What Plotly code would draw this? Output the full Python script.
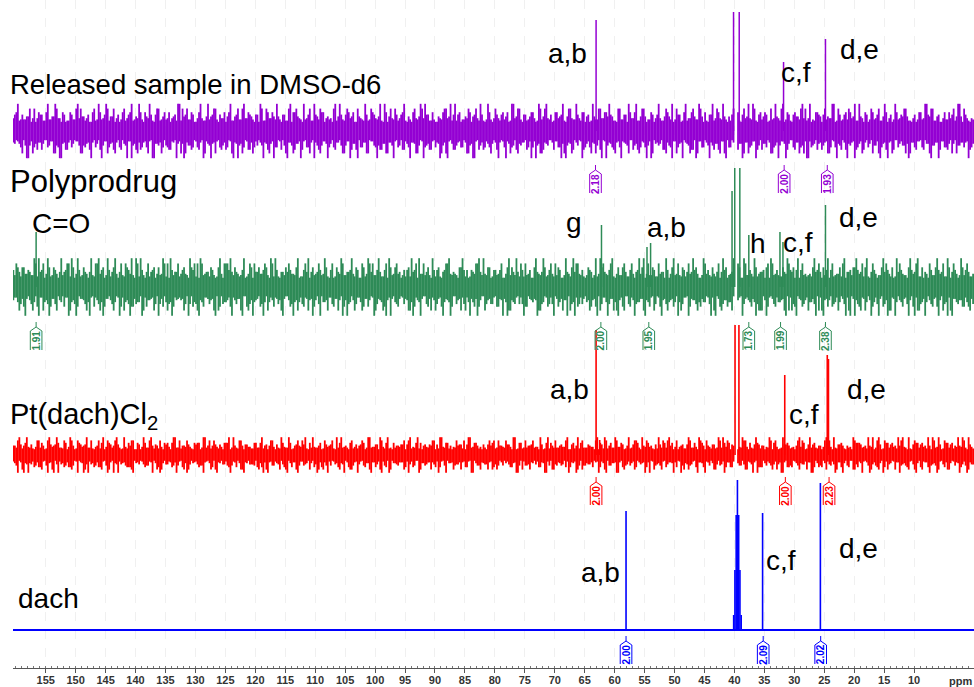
import plotly.graph_objects as go

# ---------------------------------------------------------------- layout basics
W, H = 974, 687
PLOT_H = 668                      # height of the plotting area in px (y data units = px)
X_LEFT, X_RIGHT = 160.46, 0.0     # ppm range, reversed like an NMR axis
FONT = "Liberation Sans, Arial, Helvetica, sans-serif"

C_REL = "#9400D3"    # released sample
C_POLY = "#2E8B57"   # polyprodrug
C_PT = "#FF0000"     # Pt(dach)Cl2
C_DACH = "#0000FF"   # dach

# ---------------------------------------------------------------- peak data (ppm, height)
rel_ppm = [63.1, 40.15, 39.2, 31.8, 24.8]
rel_height = [111, 119, 119, 69, 92]

poly_ppm = [156.6, 62.2, 54.6, 54.0, 40.4, 39.95, 39.1, 37.6, 32.4, 31.9, 24.8]
poly_height = [55, 62, 40, 44, 96, 119, 119, 52, 55, 45, 82]

pt_ppm = [63.1, 62.5, 39.9, 39.25, 31.6, 24.5, 24.3]
pt_height = [125, 15, 130, 130, 80, 100, 96]

dach_ppm = [58.1, 40.13, 39.92, 39.71, 39.50, 39.29, 39.08, 38.87, 35.3, 25.65]
dach_height = [119, 15, 60, 115, 150, 115, 60, 15, 117, 147]

# ---------------------------------------------------------------- integrals
rel_int_ppm = [63.2, 31.7, 24.5]
rel_int_val = ["2.18", "2.00", "1.93"]

poly_int_ppm = [156.6, 62.3, 54.3, 37.6, 32.3, 24.8]
poly_int_val = ["1.91", "2.00", "1.95", "1.73", "1.99", "2.38"]

pt_int_ppm = [63.1, 31.5, 24.2]
pt_int_val = ["2.00", "2.00", "2.23"]

dach_int_ppm = [58.1, 35.2, 25.6]
dach_int_val = ["2.00", "2.09", "2.02"]

# ---------------------------------------------------------------- baseline noise envelopes
# one digit per 0.5 ppm from 160.4 ppm downwards (upper / lower excursions, 0-9 scale)
rel_noise_hi = (
    "4726351846273594162738452618374925163847"
    "2593746182537469258361742958364172583946"
    "3618274593628175394826371548293675184263"
    "7452918364725183946271538496273581649237"
    "1846372958163742859317462583947162538479"
    "5283617492853716428593617248395716284935"
    "6371854926371845293617584293761854926378"
    "4925163748291637458216374958261734859162"
    "4"
)
rel_noise_lo = (
    "3148592673415286937142586391475263817492"
    "5736281943657214893562718493265718394627"
    "8215374962183574926813752946318527496381"
    "2657483915726348195726483917526384915726"
    "4391628574316925874132698547319628457193"
    "6829351748265913478592631487926153748296"
    "1574836295741863529417368925147386295174"
    "3962714858639271458936217485392671485339"
    "6"
)
poly_noise_hi = (
    "6857463925847361958274635192847365918274"
    "3926185743921658473962184573291865743928"
    "1574839261578439265174839261748359261748"
    "8392617485327961485392716845379216485937"
    "2648173592684175392648713529846175329846"
    "9173826459718362459173826549713862451973"
    "5481936274518936274851963247581396247815"
    "3765291843756219843765921483765291843765"
    "2"
)
poly_noise_lo = (
    "4283916572849361572849136527489316527849"
    "7659243816756923481676952348176529438176"
    "9416582734914658273494615827349461825734"
    "2835749163238574916328375491632853794163"
    "6174398526671439852661734985266147398256"
    "3592817465395281746535982174653529817645"
    "8741625398847162539887146253988471625398"
    "1968354729169835472919863547291698354727"
    "3"
)
pt_noise_hi = (
    "5392746183529467381952746381529473861925"
    "8164739258164793258416739528461793528164"
    "2739518462739158462793518462973518426739"
    "4618293754618239754681293754862193754618"
    "7285364917285634917258364917528364197285"
    "3947152683947512683974152683497152638947"
    "6513847296513874296531847296351874926513"
    "1876425939187642593918764259391876245939"
    "4"
)
pt_noise_lo = (
    "2618495737264819573762148957372681495377"
    "9452763189452736189542763181945276318945"
    "5187392648581739264815873962485178392648"
    "3729618453379261845337926148533729168453"
    "8563127496865312749685361274968653127496"
    "4391856273493185627343198562734931856273"
    "7246583917742658391772645839177426583917"
    "1874239568178423956818472395681784239568"
    "5"
)

NOISE_START, NOISE_STEP = 160.4, 0.5
SOLVENT_GAP = (39.45, 39.95)
# excursion size (relative units) for each envelope digit
NOISE_LEVEL = [0, 1, 2, 3, 4, 5.5, 7, 9, 12, 16]

# ---------------------------------------------------------------- stacking (px from the bottom)
REL_BASE, POLY_BASE, PT_BASE, DACH_BASE = 537, 381, 213, 38
# offset of each integral tag's stub top below its baseline
REL_TAG, POLY_TAG, PT_TAG, DACH_TAG = 34, 35, 22, 6


def noise_xy(hi, lo, base, core, scale):
    """Vertical noise strokes, two per envelope digit pair."""
    xs, ys = [], []
    n = len(hi)
    for i in range(n):
        x = NOISE_START - i * NOISE_STEP
        a, b = NOISE_LEVEL[int(hi[i])], NOISE_LEVEL[int(lo[i])]
        c, d = NOISE_LEVEL[int(lo[n - 1 - i])], NOISE_LEVEL[int(hi[n - 1 - i])]
        for xx, up, dn in ((x, a, b), (x - NOISE_STEP / 2, c, d)):
            if SOLVENT_GAP[0] < xx < SOLVENT_GAP[1]:
                continue
            xs += [xx, xx, None]
            ys += [base - core - dn * scale, base + core + up * scale, None]
    return xs, ys


def stick_xy(ppm, height, base):
    xs, ys = [], []
    for p, h in zip(ppm, height):
        xs += [p, p, None]
        ys += [base, base + h, None]
    return xs, ys


fig = go.Figure()


def add_noise(hi, lo, base, core, scale, color):
    x, y = noise_xy(hi, lo, base, core, scale)
    fig.add_trace(go.Scatter(x=x, y=y, mode="lines", line=dict(color=color, width=1.8),
                             hoverinfo="skip", showlegend=False))


def add_sticks(ppm, height, base, color, width=1.5):
    x, y = stick_xy(ppm, height, base)
    fig.add_trace(go.Scatter(x=x, y=y, mode="lines", line=dict(color=color, width=width),
                             hoverinfo="skip", showlegend=False))


add_noise(rel_noise_hi, rel_noise_lo, REL_BASE, 8, 1.2, C_REL)
add_sticks(rel_ppm, rel_height, REL_BASE, C_REL)

add_noise(poly_noise_hi, poly_noise_lo, POLY_BASE, 8, 1.3, C_POLY)
add_sticks(poly_ppm, poly_height, POLY_BASE, C_POLY)

add_noise(pt_noise_hi, pt_noise_lo, PT_BASE, 5, 0.8, C_PT)
add_sticks(pt_ppm, pt_height, PT_BASE, C_PT, width=1.6)

# dach: clean baseline
fig.add_trace(go.Scatter(x=[X_LEFT, X_RIGHT], y=[DACH_BASE, DACH_BASE], mode="lines",
                         line=dict(color=C_DACH, width=1.8), hoverinfo="skip", showlegend=False))
add_sticks(dach_ppm, dach_height, DACH_BASE, C_DACH, width=1.6)

# ---------------------------------------------------------------- integral tags
shapes, annotations = [], []
HW = 0.97


def add_tags(ppm_list, vals, base, offset, color):
    top = base - offset
    for p, v in zip(ppm_list, vals):
        path = (f"M {p},{top} L {p},{top-5} "
                f"M {p-HW},{top-28} L {p-HW},{top-9} L {p},{top-5} L {p+HW},{top-9} L {p+HW},{top-28}")
        shapes.append(dict(type="path", path=path, xref="x", yref="y",
                           line=dict(color=color, width=1)))
        annotations.append(dict(x=p, y=top - 18.5, xref="x", yref="y", text=v, showarrow=False,
                                textangle=-90, font=dict(family=FONT, size=10, color=color, weight="bold")))


add_tags(rel_int_ppm, rel_int_val, REL_BASE, REL_TAG, C_REL)
add_tags(poly_int_ppm, poly_int_val, POLY_BASE, POLY_TAG, C_POLY)
add_tags(pt_int_ppm, pt_int_val, PT_BASE, PT_TAG, C_PT)
add_tags(dach_int_ppm, dach_int_val, DACH_BASE, DACH_TAG, C_DACH)


# ---------------------------------------------------------------- text labels (pixel placement)
def label(text, px, py, size=28, xanchor="center"):
    annotations.append(dict(x=(px - 13) / (W - 13), y=(PLOT_H - py) / PLOT_H, xref="paper",
                            yref="paper", text=text, showarrow=False, xanchor=xanchor,
                            yanchor="middle", font=dict(family=FONT, size=size, color="#000")))


label("Released sample in DMSO-d6", 8, 85, 27.5, "left")
label("a,b", 567, 53)
label("c,f", 796, 73)
label("d,e", 859, 50)

label("Polyprodrug", 8, 181, 31, "left")
label("C=O", 61, 223)
label("g", 574, 222)
label("a,b", 666, 227)
label("h", 758, 243)
label("c,f", 798, 242)
label("d,e", 858, 218)

label("Pt(dach)Cl<sub>2</sub>", 8, 416, 29, "left")
label("a,b", 569, 389)
label("c,f", 804, 414)
label("d,e", 866, 389)

label("dach", 16, 598, 28, "left")
label("a,b", 600, 572)
label("c,f", 781, 560)
label("d,e", 858, 548)

annotations.append(dict(x=2.2, y=(PLOT_H - 681) / PLOT_H, xref="x", yref="paper", text="ppm",
                        showarrow=False, xanchor="center", yanchor="middle",
                        font=dict(family=FONT, size=11, color="#333", weight="bold")))

tick_vals = list(range(155, 9, -5))

fig.update_layout(
    width=W, height=H,
    margin=dict(l=13, r=0, t=0, b=H - PLOT_H),
    paper_bgcolor="white", plot_bgcolor="white",
    shapes=shapes, annotations=annotations,
    xaxis=dict(range=[X_LEFT, X_RIGHT], tickvals=tick_vals, ticktext=[str(v) for v in tick_vals],
               showline=True, linecolor="#555", linewidth=1, ticks="outside", ticklen=4,
               ticklabelstandoff=-2,
               tickcolor="#555", tickfont=dict(family=FONT, size=11, color="#333", weight="bold"),
               showgrid=True, gridcolor="#f0f0f0", griddash="dash", gridwidth=1, zeroline=False,
               minor=dict(dtick=1, ticks="inside", ticklen=2, tickcolor="#777", showgrid=False)),
    yaxis=dict(range=[0, PLOT_H], visible=False, showgrid=False, zeroline=False),
)

fig.write_html("out.html")
